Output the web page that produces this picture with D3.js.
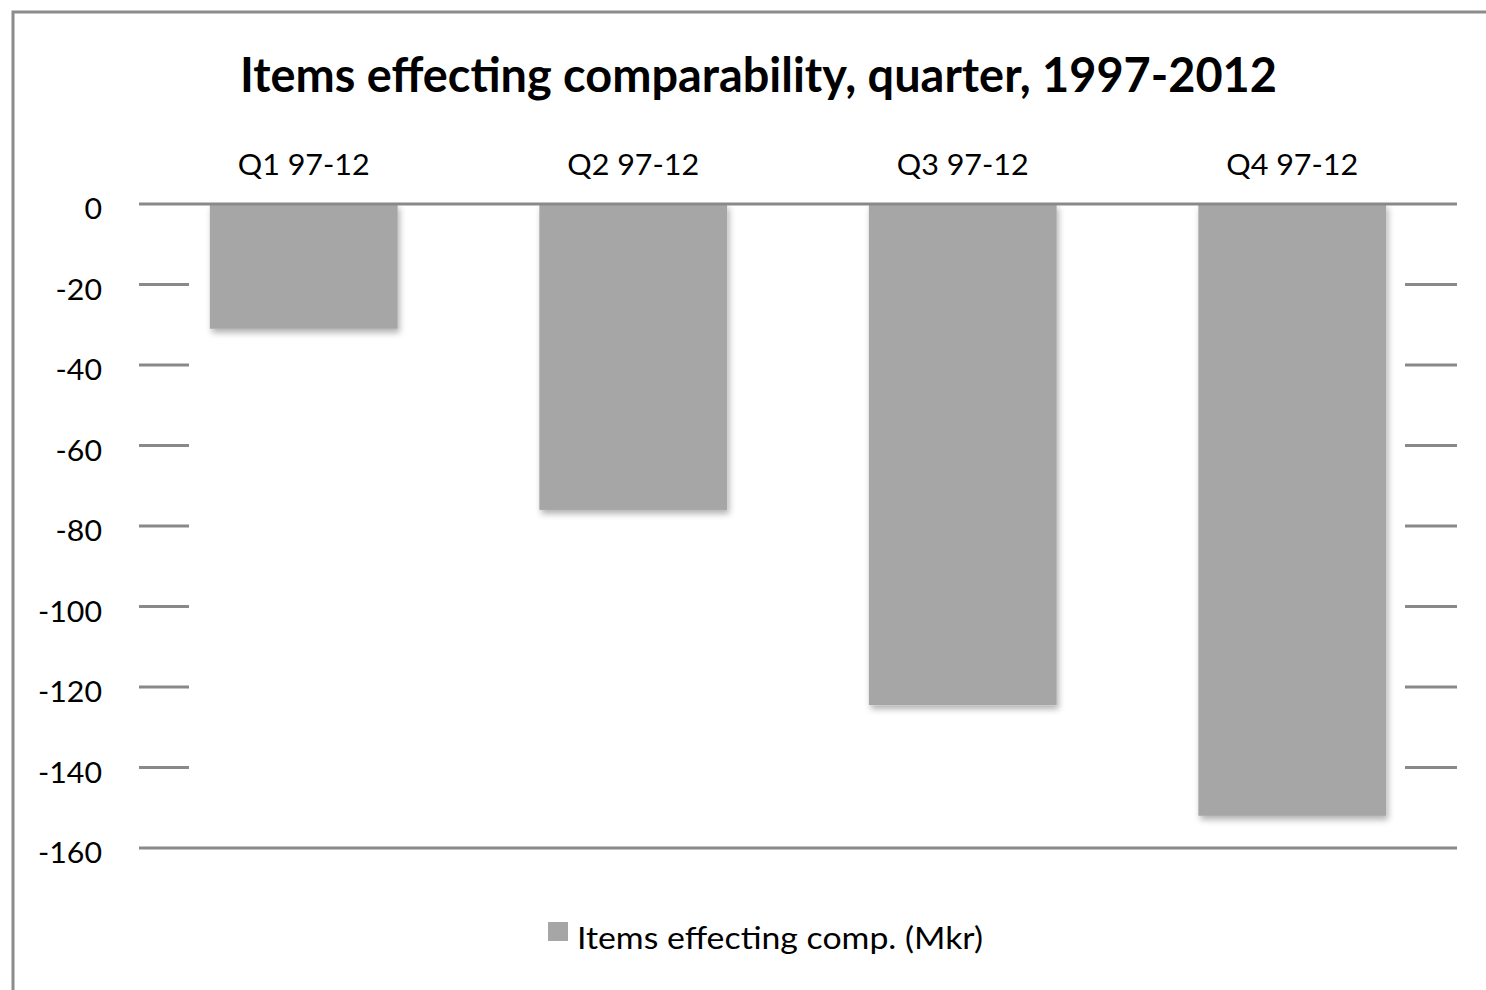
<!DOCTYPE html>
<html>
<head>
<meta charset="utf-8">
<script src="https://cdn.jsdelivr.net/npm/d3@7"></script>
<style>
  html, body { margin: 0; padding: 0; background: #fff; }
  svg { display: block; }
  text { font-family: Lato, "Open Sans", "Liberation Sans", sans-serif; fill: #000; }
</style>
</head>
<body>
<svg id="chart" width="1486" height="990"></svg>
<script>
// Quarterly items affecting comparability, 1997-2012 (Mkr)
const categories = ["Q1 97-12", "Q2 97-12", "Q3 97-12", "Q4 97-12"];
const values = [-31, -76, -124.5, -152];
const yTicks = [0, -20, -40, -60, -80, -100, -120, -140, -160];
const titleText = "Items effecting comparability, quarter, 1997-2012";
const legendText = "Items effecting comp. (Mkr)";

const svg = d3.select("#chart");
const W = 1486, H = 990;
const plot = { left: 139, right: 1457, top: 204, bottom: 848 };
const gridColor = "#898989";
const barColor = "#a6a6a6";

// soft drop shadow under bars
const defs = svg.append("defs");
const f = defs.append("filter").attr("id", "shadow")
  .attr("x", "-10%").attr("y", "-10%").attr("width", "120%").attr("height", "120%");
f.append("feDropShadow").attr("dx", 2).attr("dy", 4).attr("stdDeviation", 3)
  .attr("flood-color", "#000").attr("flood-opacity", 0.3);

// outer frame
svg.append("rect").attr("x", 13).attr("y", 12)
  .attr("width", W + 20).attr("height", H + 20)
  .attr("fill", "#fff").attr("stroke", "#8c8c8c").attr("stroke-width", 3);

const x = d3.scaleBand().domain(categories)
  .range([plot.left, plot.right]).paddingInner(0.43).paddingOuter(0.215);
const y = d3.scaleLinear().domain([-160, 0]).range([plot.bottom, plot.top]);

// squeeze a text run horizontally by a ratio (narrow-face look)
function squeeze(sel, ratio) {
  sel.each(function () {
    const w = this.getComputedTextLength();
    d3.select(this).attr("textLength", (w * ratio).toFixed(1))
      .attr("lengthAdjust", "spacingAndGlyphs");
  });
  return sel;
}
function fitTo(sel, target) {
  sel.attr("textLength", target).attr("lengthAdjust", "spacingAndGlyphs");
  return sel;
}
// scale font size so the run spans a target width
function sizeTo(sel, target) {
  const fs = parseFloat(sel.attr("font-size"));
  const w = sel.node().getComputedTextLength();
  sel.attr("font-size", (fs * target / w).toFixed(2));
  return sel;
}

// title
sizeTo(svg.append("text").attr("x", 758.5).attr("y", 92)
  .attr("text-anchor", "middle").attr("font-weight", "bold").attr("font-size", 36)
  .text(titleText), 1037);

// bars
svg.append("g").selectAll("rect").data(values).join("rect")
  .attr("x", (d, i) => x(categories[i]))
  .attr("y", y(0))
  .attr("width", x.bandwidth())
  .attr("height", d => y(d) - y(0))
  .attr("fill", barColor)
  .attr("filter", "url(#shadow)");

// horizontal rules: full width at 0 and -160, short stubs elsewhere
const g = svg.append("g").attr("stroke", gridColor).attr("stroke-width", 3);
yTicks.forEach(t => {
  const yy = y(t);
  if (t === 0 || t === -160) {
    g.append("line").attr("x1", plot.left).attr("x2", plot.right).attr("y1", yy).attr("y2", yy);
  } else {
    g.append("line").attr("x1", plot.left).attr("x2", plot.left + 50).attr("y1", yy).attr("y2", yy);
    g.append("line").attr("x1", plot.right - 52).attr("x2", plot.right).attr("y1", yy).attr("y2", yy);
  }
});

// y tick labels
const yLab = svg.append("g").selectAll("text").data(yTicks).join("text")
  .attr("x", 102).attr("y", d => y(d) + 15)
  .attr("text-anchor", "end").attr("font-size", 29.5)
  .text(d => d3.format("d")(d).replace("−", "-"));
{
  const w = yLab.filter(d => d === -160).node().getComputedTextLength();
  squeeze(yLab, 64 / w);
}

// category labels across the top
const cLab = svg.append("g").selectAll("text").data(categories).join("text")
  .attr("x", d => x(d) + x.bandwidth() / 2).attr("y", 175)
  .attr("text-anchor", "middle").attr("font-size", 28)
  .text(d => d);
fitTo(cLab, 132);

// legend
svg.append("rect").attr("x", 548).attr("y", 922).attr("width", 20).attr("height", 19)
  .attr("fill", barColor);
fitTo(svg.append("text").attr("x", 577).attr("y", 949)
  .attr("font-size", 30.5).text(legendText), 406);
</script>
</body>
</html>
